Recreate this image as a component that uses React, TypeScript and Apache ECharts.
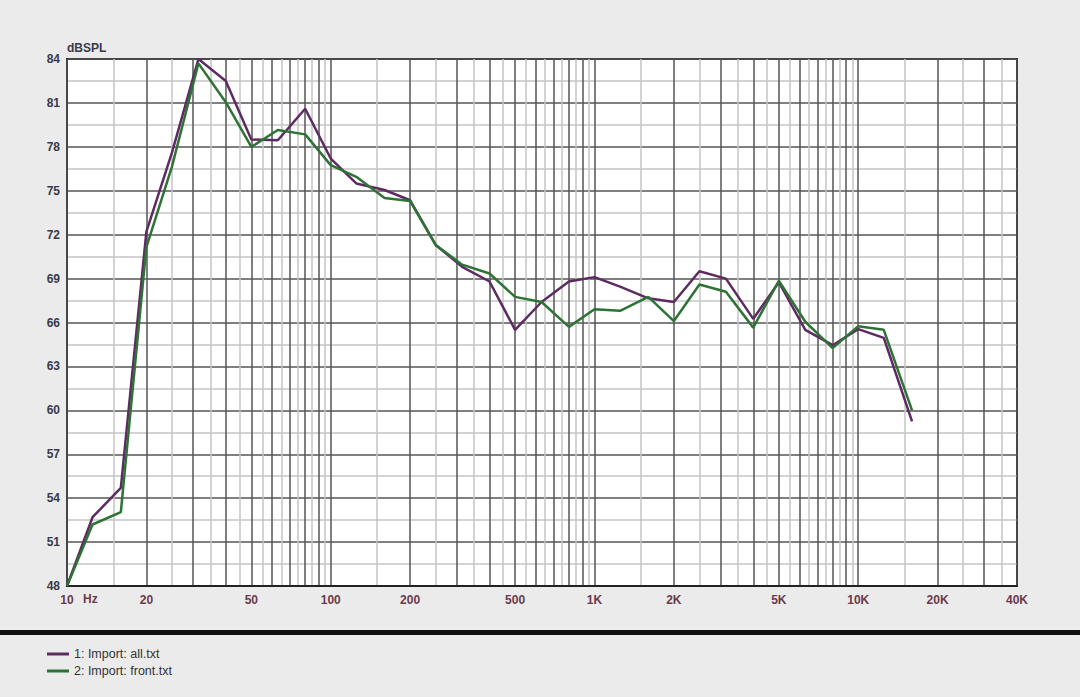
import React, { useEffect, useRef } from "react";
import * as echarts from "echarts";

const freqs = [10, 12.5, 16, 20, 25, 31.5, 40, 50, 63, 80, 100, 125, 160, 200, 250, 315, 400, 500, 630, 800, 1000, 1250, 1600, 2000, 2500, 3150, 4000, 5000, 6300, 8000, 10000, 12500, 16000];
const allTxt = [48, 52.7, 54.7, 72.2, 77.6, 84.0, 82.5, 78.5, 78.45, 80.6, 77.2, 75.5, 75.05, 74.35, 71.3, 69.8, 68.8, 65.5, 67.4, 68.8, 69.1, 68.45, 67.65, 67.4, 69.5, 69.0, 66.25, 68.75, 65.5, 64.45, 65.55, 64.95, 59.25];
const frontTxt = [48, 52.2, 53.05, 71.15, 76.65, 83.7, 81.05, 78.0, 79.15, 78.85, 76.75, 75.95, 74.5, 74.3, 71.3, 69.95, 69.35, 67.75, 67.4, 65.7, 66.9, 66.8, 67.75, 66.1, 68.6, 68.1, 65.65, 68.85, 66.05, 64.25, 65.75, 65.5, 60.0];
const xLabelValues = [10, 20, 50, 100, 200, 500, 1000, 2000, 5000, 10000, 20000, 40000];
const seriesNames = ["1: Import: all.txt", "2: Import: front.txt"];

const majorGrid: number[] = [];
const minorGrid: number[] = [];
for (const dec of [10, 100, 1000, 10000]) {
  for (let m = 1; m <= 9; m++) {
    const v = m * dec;
    if (v <= 40000) majorGrid.push(v);
    const h = (m + 0.5) * dec;
    if (h < 40000) minorGrid.push(h);
  }
}

export default function App() {
  const ref = useRef<HTMLDivElement>(null);
  useEffect(() => {
    document.body.style.margin = "0";
    const chart = echarts.init(ref.current!, null, { renderer: "svg" });
    const font = "Arial, 'Liberation Sans', sans-serif";
    chart.setOption({
      animation: false,
      backgroundColor: "#ebebeb",
      grid: {
        left: 67,
        right: 63,
        top: 59,
        bottom: 111,
        show: true,
        backgroundColor: "#ffffff",
        borderColor: "#222222",
        borderWidth: 2,
      },
      legend: {
        orient: "vertical",
        left: 47,
        top: 647,
        padding: 0,
        icon: "rect",
        itemWidth: 22,
        itemHeight: 3,
        itemGap: 3,
        textStyle: { fontFamily: font, fontSize: 12.5, color: "#333", lineHeight: 14 },
        data: seriesNames,
      },
      xAxis: [
        {
          type: "log",
          logBase: 10,
          min: 10,
          max: 40000,
          z: 2,
          axisLine: { show: true, lineStyle: { color: "#222", width: 2 } },
          axisTick: { show: false, customValues: majorGrid },
          axisLabel: {
            customValues: xLabelValues,
            fontFamily: font,
            fontSize: 12,
            fontWeight: "bold",
            color: "#6b3a4a",
            margin: 8,
            formatter: (v: number) => (v >= 1000 ? v / 1000 + "K" : String(v)),
          },
          splitLine: { show: true, lineStyle: { color: "#555", width: 1.5 } },
        },
        {
          type: "log",
          logBase: 10,
          min: 10,
          max: 40000,
          z: 1,
          axisLine: { show: false },
          axisTick: { show: false, customValues: minorGrid },
          axisLabel: { show: false },
          splitLine: { show: true, lineStyle: { color: "#c4c4c4", width: 1.5 } },
        },
      ],
      yAxis: {
        type: "value",
        min: 48,
        max: 84,
        interval: 3,
        name: "dBSPL",
        nameLocation: "end",
        nameGap: 5,
        nameTextStyle: { fontFamily: font, fontSize: 12, fontWeight: "bold", color: "#3a3a4a", align: "left" },
        axisLine: { show: true, lineStyle: { color: "#222", width: 2 } },
        axisTick: { show: false },
        axisLabel: { fontFamily: font, fontSize: 12, fontWeight: "bold", color: "#3a3a4a", margin: 7 },
        splitLine: { show: true, lineStyle: { color: "#555", width: 1.5 } },
        minorTick: { show: false, splitNumber: 2 },
        minorSplitLine: { show: true, lineStyle: { color: "#c4c4c4", width: 1.5 } },
      },
      series: [
        {
          name: seriesNames[0],
          type: "line",
          z: 5,
          symbol: "none",
          data: freqs.map((f, i) => [f, allTxt[i]]),
          lineStyle: { color: "#5e2a62", width: 2.5 },
          itemStyle: { color: "#5e2a62" },
        },
        {
          name: seriesNames[1],
          type: "line",
          z: 6,
          symbol: "none",
          data: freqs.map((f, i) => [f, frontTxt[i]]),
          lineStyle: { color: "#2e7336", width: 2.5 },
          itemStyle: { color: "#2e7336" },
        },
      ],
      graphic: [
        { type: "rect", left: 0, top: 630, shape: { width: 1080, height: 5 }, style: { fill: "#111" } },
        {
          type: "text",
          left: 83,
          top: 593,
          style: { text: "Hz", fontFamily: font, fontSize: 12, fontWeight: "bold", fill: "#6b3a4a" },
        },
      ],
    });
    return () => chart.dispose();
  }, []);
  return <div ref={ref} style={{ width: 1080, height: 697 }} />;
}
